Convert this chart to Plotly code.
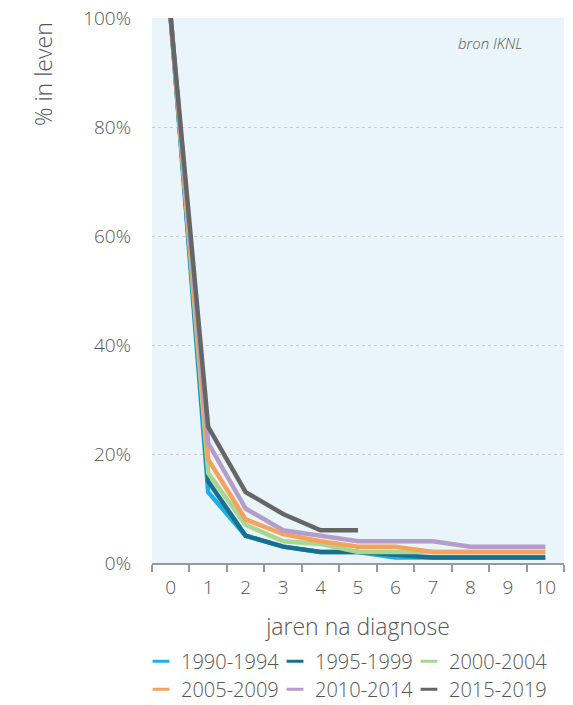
import plotly.graph_objects as go

years = ["0", "1", "2", "3", "4", "5", "6", "7", "8", "9", "10"]
series_names = ["1990-1994", "1995-1999", "2000-2004", "2005-2009", "2010-2014", "2015-2019"]
s1990 = [100, 13, 5, 3, 2, 2, 1, 1, 1, 1, 1]
s1995 = [100, 15, 5, 3, 2, 2, 1.5, 1, 1, 1, 1]
s2000 = [100, 16.5, 7, 4, 3.5, 2, 2, 2, 2, 2, 2]
s2005 = [100, 19, 8, 5.3, 4, 3, 3, 2, 2, 2, 2]
s2010 = [100, 22, 10, 6, 5, 4, 4, 4, 3, 3, 3]
s2015 = [100, 25, 13, 9, 6, 6]
series_values = [s1990, s1995, s2000, s2005, s2010, s2015]
colors = ["#1cb0e6", "#17708f", "#a9d690", "#f5a25c", "#b49ccb", "#666666"]

font_family = "'Open Sans', 'Noto Sans', sans-serif"
txt = "#555555"

fig = go.Figure()
for name, vals, col in zip(series_names, series_values, colors):
    fig.add_trace(go.Scatter(x=years[:len(vals)], y=vals, mode="lines", name=name,
                             line=dict(color=col, width=4.5), showlegend=False,
                             cliponaxis=False))

legend_ids = ["legend", "legend2", "legend3", "legend4", "legend5", "legend6"]
for name, col, lg in zip(series_names, colors, legend_ids):
    fig.add_trace(go.Scatter(x=[None], y=[None], mode="markers", name=name, legend=lg,
                             marker=dict(symbol="line-ew-open", size=12, color=col,
                                         line=dict(color=col, width=3)),
                             showlegend=True))

fig.add_annotation(text="<i>bron IKNL</i>", xref="paper", yref="paper", x=0.905, y=0.955,
                   xanchor="right", yanchor="middle", showarrow=False,
                   font=dict(size=15, color=txt, family=font_family, weight=300))
fig.add_annotation(text="% in leven", xref="paper", yref="paper", x=-0.2646, y=0.897,
                   xanchor="center", yanchor="middle", showarrow=False, textangle=-90,
                   font=dict(size=23, color=txt, family=font_family, weight=300))

leg_common = dict(orientation="h", yref="container", yanchor="top",
                  xref="container", xanchor="left",
                  font=dict(size=20, color=txt, weight=300), tracegroupgap=0,
                  itemwidth=30, bgcolor="rgba(0,0,0,0)")
col_x = [0.2354, 0.4726, 0.7097]
row_y = [0.0906, 0.0504]
legend_layout = {}
for i, lg in enumerate(legend_ids):
    legend_layout[lg] = dict(leg_common, x=col_x[i % 3], y=row_y[i // 3])

fig.update_layout(
    width=565, height=697,
    margin=dict(l=144, r=9, t=10, b=142),
    paper_bgcolor="white",
    plot_bgcolor="#eaf4fb",
    font=dict(family=font_family, color=txt, size=19, weight=300),
    xaxis=dict(type="category", tickson="boundaries", ticks="outside", ticklen=7,
               tickcolor="#999999", tickwidth=1.5, showline=True, linecolor="#999999",
               linewidth=2, showgrid=False, range=[-0.5, 10.5], automargin=False,
               ticklabelstandoff=6,
               title=dict(text="jaren na diagnose", font=dict(size=23, weight=300), standoff=22),
               tickfont=dict(size=19, color=txt, weight=300)),
    yaxis=dict(range=[0, 100], tickvals=[0, 20, 40, 60, 80, 100],
               ticktext=["0%", "20%", "40%", "60%", "80%", "100%"],
               showgrid=True, gridcolor="#cccccc", griddash="dot", gridwidth=1,
               zeroline=False, showline=False, ticks="", ticklabelstandoff=20,
               automargin=False, ticklabeloverflow="allow",
               tickfont=dict(size=19, color=txt, weight=300)),
    **legend_layout,
)

fig.write_html("out.html")
